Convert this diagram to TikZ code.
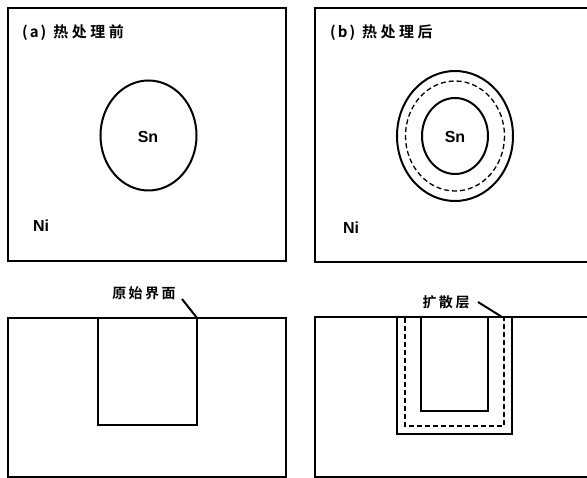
\documentclass[tikz,border=0pt]{standalone}
\usepackage{fontspec}
\setmainfont{Liberation Sans}
\newfontfamily\cjk{Noto Sans CJK SC}[BoldFont={Noto Sans CJK SC Bold}]
\newcommand{\gp}{\hspace{2.5pt}}
\newcommand{\tg}{\hspace{3.5pt}}
\begin{document}
\begin{tikzpicture}[x=1pt,y=-1pt,
  frame/.style={line width=2pt},
  solidline/.style={line width=2pt},
  thinline/.style={line width=1.6pt},
  dashline/.style={line width=1.3pt,dash pattern=on 5pt off 3pt},
  lbl/.style={font=\bfseries\fontsize{16}{18}\selectfont,inner sep=0pt},
  cjklbl/.style={font=\cjk\bfseries\fontsize{14}{16}\selectfont,inner sep=0pt},
  titlelbl/.style={font=\cjk\bfseries\fontsize{15}{17}\selectfont,inner sep=0pt,anchor=west}]
\useasboundingbox (0,0) rectangle (587,478);
\begin{scope}
\clip (0,0) rectangle (587,478);
% panel a
\draw[frame] (8,8) rectangle (286,261);
\node[titlelbl] (ta) at (22,33) {(\hspace{2pt}a\hspace{2pt})\hspace{7pt}热\tg 处\tg 理\tg 前};
\draw[solidline] (148.5,135.5) ellipse [x radius=48, y radius=55];
\node[lbl] (sna) at (148,137) {Sn};
\node[lbl] (nia) at (41,226) {Ni};
% panel b
\draw[frame] (595,8) -- (315,8) -- (315,262) -- (595,262);
\node[titlelbl] (tb) at (330,33) {(\hspace{2pt}b\hspace{2pt})\hspace{7pt}热\tg 处\tg 理\tg 后};
\draw[solidline] (455,136) ellipse [x radius=58, y radius=65];
\draw[dashline] (455,136) ellipse [x radius=49.5, y radius=55];
\draw[solidline] (455,136) ellipse [x radius=33, y radius=38];
\node[lbl] (snb) at (455,137) {Sn};
\node[lbl] (nib) at (351,228) {Ni};
% panel c
\draw[frame] (8,318) rectangle (286,477);
\draw[thinline] (98,318) -- (98,425) -- (197,425) -- (197,318);
\node[cjklbl] (lc) at (144,293) {原\gp 始\gp 界\gp 面};
\coordinate (pc) at (197,318);
\draw[line width=2pt] (182,299) -- (pc);
% panel d
\draw[frame] (595,317) -- (315,317) -- (315,477) -- (595,477);
\draw[solidline] (397,317) -- (397,434) -- (512,434) -- (512,317);
\draw[dashline] (405,318) -- (405,426) -- (504,426) -- (504,318);
\draw[thinline] (421,317) -- (421,411) -- (488,411) -- (488,317);
\node[cjklbl] (ld) at (446,302) {扩\gp 散\gp 层};
\coordinate (pd) at (502,317);
\draw[line width=2pt] (478,302) -- (pd);
\end{scope}
\end{tikzpicture}
\end{document}
